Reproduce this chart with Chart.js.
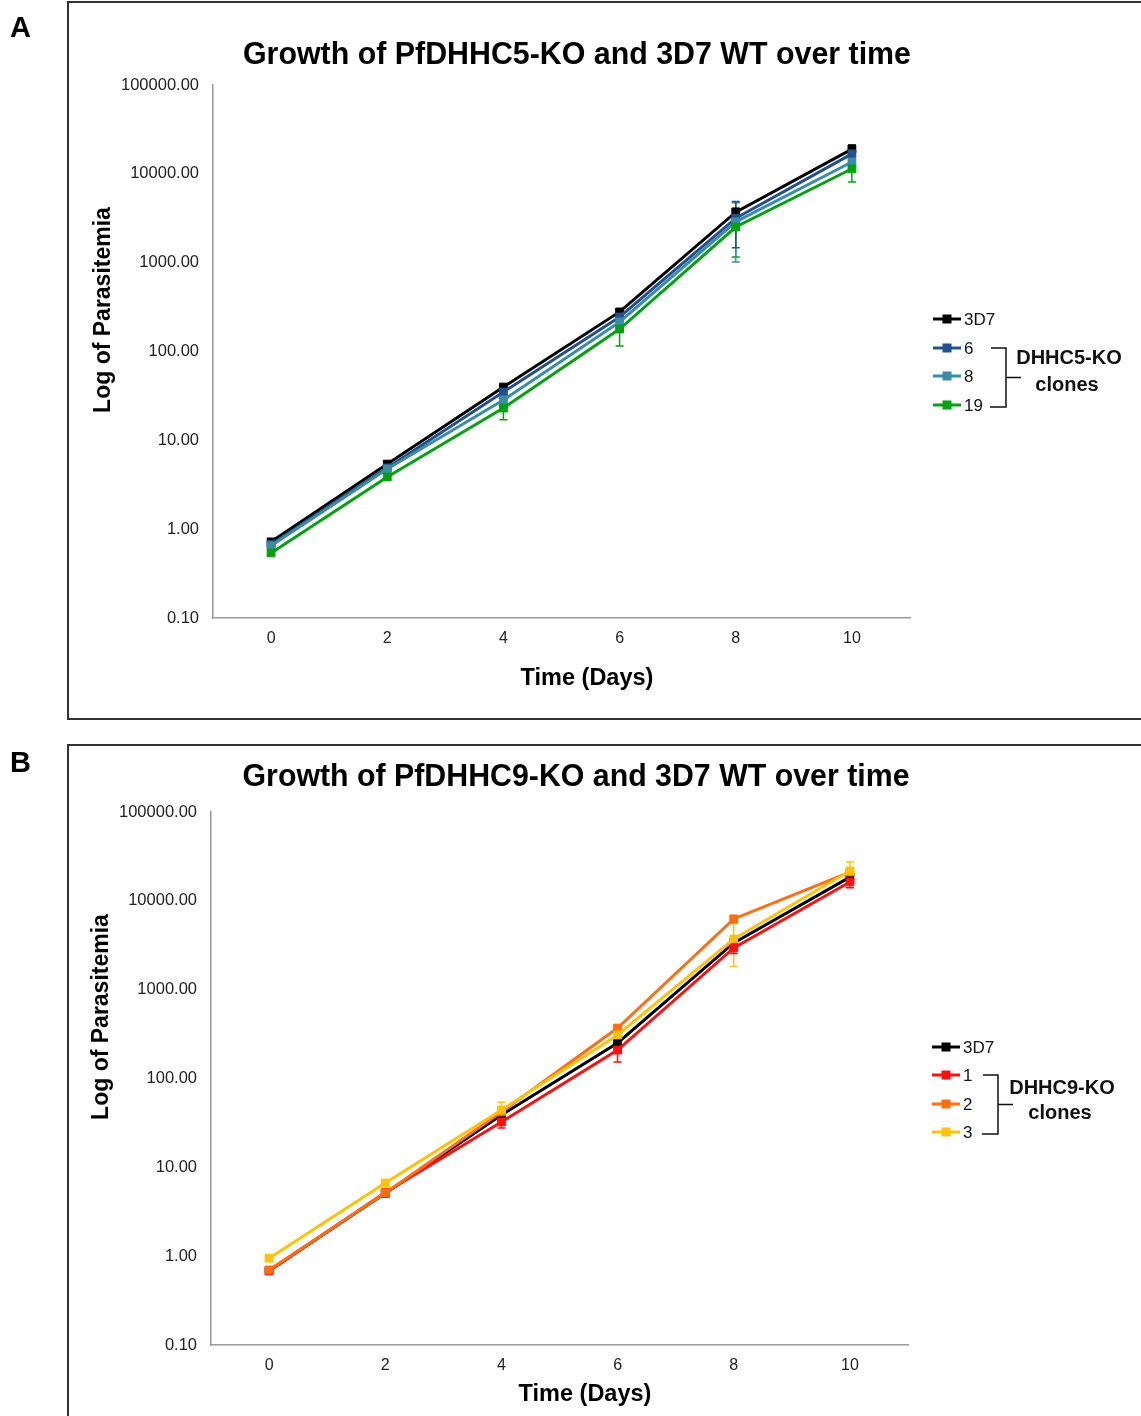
<!DOCTYPE html>
<html>
<head>
<meta charset="utf-8">
<script src="https://cdn.jsdelivr.net/npm/chart.js@4.4.1/dist/chart.umd.min.js"></script>
<style>
  html, body { margin: 0; padding: 0; background: #fff; width: 1141px; height: 1416px; overflow: hidden; position: relative; }
  .panel { position: absolute; border: 2px solid #333; box-sizing: border-box; }
  canvas { position: absolute; left: 0; }
</style>
</head>
<body>
<div class="panel" style="left:67px; top:1px; width:1200px; height:719px;"></div>
<div class="panel" style="left:67px; top:744px; width:1200px; height:800px;"></div>
<canvas id="chartA" width="1141" height="730" style="top:0px;"></canvas>
<canvas id="chartB" width="1141" height="686" style="top:730px;"></canvas>
<script>
// ---------- data ----------
const days = ['0', '2', '4', '6', '8', '10'];
const yTicks = [0.1, 1, 10, 100, 1000, 10000, 100000];

// Panel A: PfDHHC5-KO
const aLabels = ['3D7', '6', '8', '19'];
const a3D7      = [0.72, 5.4, 39.8, 279, 3700, 19000];
const a3D7Err   = [0.03, 0.3, 2, 15, 400, 2100];
const aClone6    = [0.67, 4.9, 35, 245, 3170, 16800];
const aClone6Err = [0.03, 0.3, 3, 20, 1700, 2500];
const aClone8    = [0.65, 4.76, 28.5, 215, 2880, 13600];
const aClone8Err = [0.03, 0.3, 3, 22, 1860, 2500];
const aClone19    = [0.54, 3.87, 23.1, 179, 2520, 11400];
const aClone19Err = [0.03, 0.3, 6, 64, 1360, 3300];

// Panel B: PfDHHC9-KO
const bLabels = ['3D7', '1', '2', '3'];
const b3D7      = [0.69, 5.1, 38.8, 251, 3360, 18500];
const b3D7Err   = [0.03, 0.3, 3, 20, 300, 2000];
const bClone1    = [0.68, 5.2, 32.4, 209, 2950, 16300];
const bClone1Err = [0.03, 0.3, 4.7, 56, 400, 2300];
const bClone2    = [0.70, 5.14, 42, 370, 6250, 21100];
const bClone2Err = [0.03, 0.3, 4, 30, 600, 2000];
const bClone3    = [0.95, 6.66, 44.2, 309, 3720, 21700];
const bClone3Err = [0.05, 0.5, 10, 60, 1900, 5700];

// ---------- styling ----------
const FONT = '"Liberation Sans", Arial, Helvetica, sans-serif';
const colorsA = ['#000000', '#23508E', '#3A8DA6', '#06A012'];
const colorsB = ['#000000', '#FF1010', '#FF6E12', '#FFC20A'];

const errorBarPlugin = {
  id: 'errorBars',
  beforeDatasetsDraw(chart) {
    const ctx = chart.ctx;
    const ys = chart.scales.y;
    const n = chart.data.datasets.length;
    for (let k = n - 1; k >= 0; k--) {
      const ds = chart.data.datasets[k];
      if (!ds.errors) continue;
      const meta = chart.getDatasetMeta(k);
      ctx.save();
      ctx.strokeStyle = ds.borderColor;
      ctx.lineWidth = 1.5;
      meta.data.forEach((pt, i) => {
        const v = ds.data[i], e = ds.errors[i];
        const top = ys.getPixelForValue(v + e);
        const bot = ys.getPixelForValue(Math.max(v - e, 0.0001));
        const x = pt.x;
        ctx.beginPath();
        ctx.moveTo(x, top); ctx.lineTo(x, bot);
        ctx.moveTo(x - 4, top); ctx.lineTo(x + 4, top);
        ctx.moveTo(x - 4, bot); ctx.lineTo(x + 4, bot);
        ctx.stroke();
      });
      ctx.restore();
    }
  }
};

function fitText(ctx, text, cx, cy, width) {
  const w = ctx.measureText(text).width;
  ctx.save();
  ctx.translate(cx, cy);
  ctx.scale(width / w, 1);
  ctx.fillText(text, 0, 0);
  ctx.restore();
}

const decorPlugin = {
  id: 'decor',
  afterDraw(chart) {
    const g = chart.options.plugins.decor;
    const ctx = chart.ctx;
    ctx.save();
    ctx.fillStyle = '#000';
    // panel letter
    ctx.font = 'bold 29px ' + FONT;
    ctx.textAlign = 'left'; ctx.textBaseline = 'alphabetic';
    ctx.fillText(g.letter, g.letterX, g.letterY);
    // title
    ctx.font = 'bold 31px ' + FONT;
    ctx.textAlign = 'center'; ctx.textBaseline = 'middle';
    fitText(ctx, g.title, g.titleX, g.titleY, g.titleW);
    // x title
    ctx.font = 'bold 23.5px ' + FONT;
    ctx.fillText('Time (Days)', g.xTitleX, g.xTitleY);
    // y title
    ctx.save();
    ctx.translate(g.yTitleX, g.yTitleY);
    ctx.rotate(-Math.PI / 2);
    ctx.font = 'bold 23px ' + FONT;
    ctx.fillText('Log of Parasitemia', 0, 0);
    ctx.restore();
    // legend
    const dsets = chart.data.datasets;
    dsets.forEach((ds, i) => {
      const y = g.legendY[i];
      ctx.strokeStyle = ds.borderColor;
      ctx.lineWidth = 3;
      ctx.beginPath();
      ctx.moveTo(g.legendX, y); ctx.lineTo(g.legendX + 28, y);
      ctx.stroke();
      ctx.fillStyle = ds.borderColor;
      ctx.fillRect(g.legendX + 9.5, y - 4.5, 9, 9);
      ctx.fillStyle = '#111';
      ctx.font = '17px ' + FONT;
      ctx.textAlign = 'left'; ctx.textBaseline = 'middle';
      ctx.fillText(ds.label, g.legendX + 31, y + 1);
    });
    // bracket
    const bx = g.bracketX, y1 = g.legendY[1], y2 = g.legendY[3] + 2;
    const ym = (y1 + y2) / 2;
    ctx.strokeStyle = '#111';
    ctx.lineWidth = 1.5;
    ctx.beginPath();
    ctx.moveTo(bx - 15, y1); ctx.lineTo(bx, y1); ctx.lineTo(bx, y2); ctx.lineTo(bx - 16, y2);
    ctx.moveTo(bx, ym); ctx.lineTo(bx + 15, ym);
    ctx.stroke();
    ctx.fillStyle = '#111';
    ctx.font = 'bold 20px ' + FONT;
    ctx.textAlign = 'center'; ctx.textBaseline = 'middle';
    ctx.fillText(g.group, g.groupX, g.groupY1);
    ctx.fillText('clones', g.groupX - 2, g.groupY2);
    ctx.restore();
  }
};

function makeDatasets(labels, series, errors, colors) {
  const n = series.length;
  return series.map((d, i) => ({
    label: labels[i],
    data: d,
    errors: errors[i],
    borderColor: colors[i],
    backgroundColor: colors[i],
    borderWidth: 3,
    pointStyle: 'rect',
    pointRadius: 5.5,
    pointBorderWidth: 1,
    pointHoverRadius: 5.5,
    tension: 0,
    order: n - 1 - i
  }));
}

function buildChart(id, datasets, geo) {
  return new Chart(document.getElementById(id), {
    type: 'line',
    data: { labels: days, datasets: datasets },
    plugins: [errorBarPlugin, decorPlugin],
    options: {
      responsive: false,
      animation: false,
      devicePixelRatio: 1,
      events: [],
      layout: { padding: { left: 0, top: geo.top, right: geo.right, bottom: geo.bottom } },
      plugins: {
        legend: { display: false },
        title: { display: false },
        tooltip: { enabled: false },
        decor: geo
      },
      scales: {
        x: {
          type: 'category',
          offset: true,
          grid: { display: false, drawTicks: false },
          border: { display: true, color: '#9a9a9a', width: 1.5 },
          ticks: { color: '#222', font: { family: FONT, size: 16 }, padding: 11, maxRotation: 0 },
          afterFit: s => { s.height = 40; }
        },
        y: {
          type: 'logarithmic',
          min: 0.1,
          max: 100000,
          grid: { display: false, drawTicks: false },
          border: { display: true, color: '#9a9a9a', width: 1.5 },
          afterBuildTicks: s => { s.ticks = yTicks.map(v => ({ value: v })); },
          ticks: {
            color: '#222',
            font: { family: FONT, size: 16.5 },
            padding: 14,
            callback: v => Number(v).toFixed(2)
          },
          afterFit: s => { s.width = geo.axisLeft; }
        }
      }
    }
  });
}

buildChart('chartA',
  makeDatasets(aLabels, [a3D7, aClone6, aClone8, aClone19], [a3D7Err, aClone6Err, aClone8Err, aClone19Err], colorsA),
  {
    top: 85, right: 1141 - 910, bottom: 730 - 618 - 40, axisLeft: 213,
    letter: 'A', letterX: 10, letterY: 37,
    title: 'Growth of PfDHHC5-KO and 3D7 WT over time', titleX: 577, titleY: 55, titleW: 668,
    xTitleX: 587, xTitleY: 679, yTitleX: 104, yTitleY: 310,
    legendX: 933, legendY: [319, 348, 376, 405], bracketX: 1006,
    group: 'DHHC5-KO', groupX: 1069, groupY1: 358, groupY2: 385
  });

buildChart('chartB',
  makeDatasets(bLabels, [b3D7, bClone1, bClone2, bClone3], [b3D7Err, bClone1Err, bClone2Err, bClone3Err], colorsB),
  {
    top: 82, right: 1141 - 908, bottom: 686 - 615 - 40, axisLeft: 211,
    letter: 'B', letterX: 10, letterY: 42,
    title: 'Growth of PfDHHC9-KO and 3D7 WT over time', titleX: 576, titleY: 47, titleW: 667,
    xTitleX: 585, xTitleY: 665, yTitleX: 102, yTitleY: 287,
    legendX: 932, legendY: [317, 345, 374, 402], bracketX: 998,
    group: 'DHHC9-KO', groupX: 1062, groupY1: 358, groupY2: 383
  });
</script>
</body>
</html>
